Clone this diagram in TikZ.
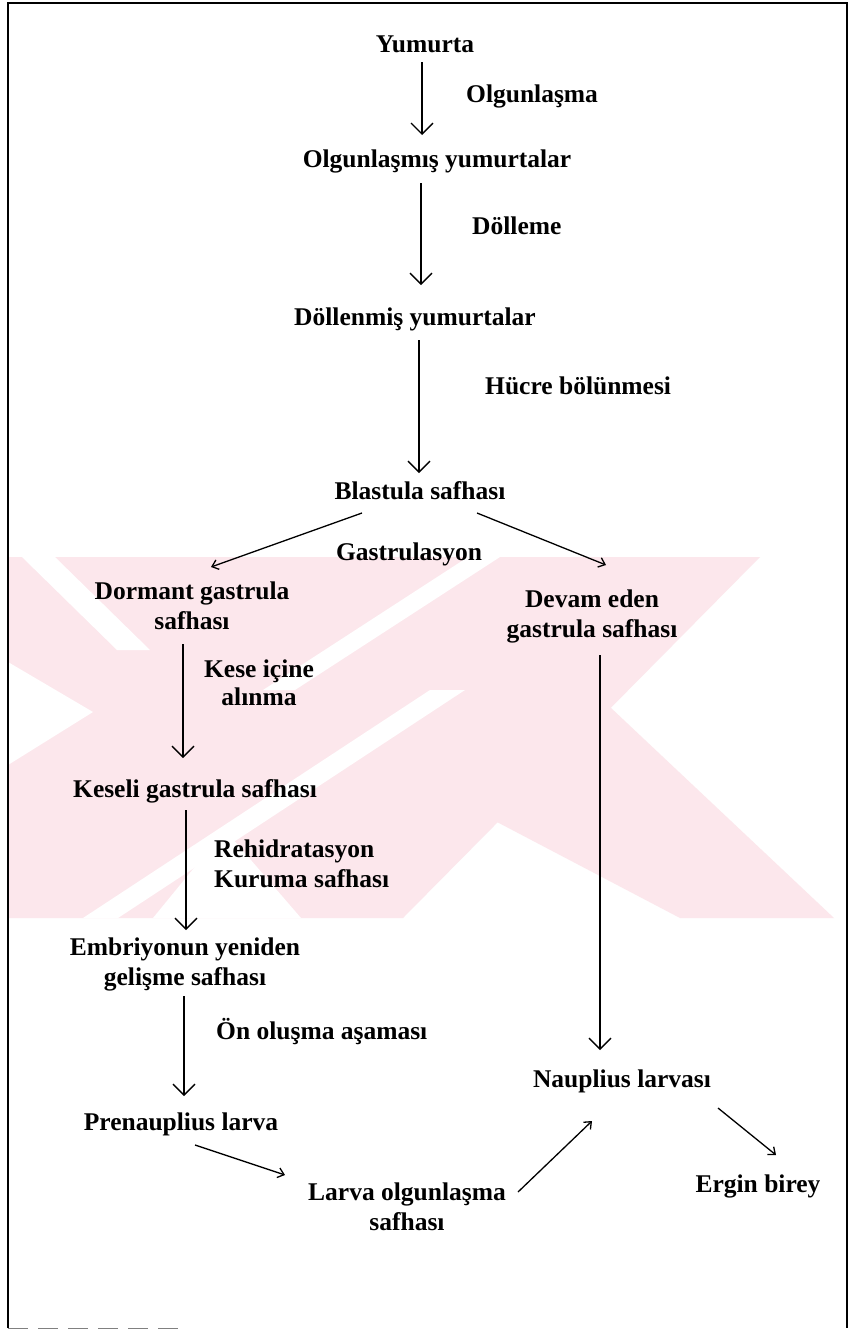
\documentclass[tikz,border=0pt]{standalone}
\usepackage{fontspec}
\setmainfont{Liberation Serif}
\usetikzlibrary{arrows.meta}
\definecolor{wm}{RGB}{252,231,236}
\begin{document}
\begin{tikzpicture}[x=1pt,y=-1pt,
  lbl/.style={font=\fontsize{25.5}{30}\selectfont\bfseries, inner sep=0pt, anchor=base},
  lbll/.style={lbl, anchor=base west, align=left},
  arr/.style={line width=1.3pt, -{Straight Barb[length=11pt,width=22pt,line width=1.3pt]}},
  darr/.style={line width=1.3pt, -{Straight Barb[length=6pt,width=10pt,line width=1.3pt]}},
  frame/.style={line width=1.5pt}
]
\useasboundingbox (0,0) rectangle (855,1331);
\fill[white] (0,0) rectangle (855,1331);

% watermark
\begin{scope}
\clip (8,557) rectangle (836,918);
\fill[wm] (8,557) -- (760,557) -- (403,918) -- (8,918) -- cycle;
\fill[wm] (610,707) -- (834,918) -- (680,918) -- (497,822) -- cycle;
\fill[white] (22,557) -- (55,557) -- (150,650) -- (117,650) -- cycle;
\fill[white] (8,662) -- (93,712) -- (8,765) -- cycle;
\fill[white] (468,557) -- (500,557) -- (295,690) -- (263,690) -- cycle;
\fill[white] (430,690) -- (465,690) -- (118,918) -- (83,918) -- cycle;
\fill[white] (225,830) -- (301,918) -- (153,918) -- cycle;
\end{scope}

% frame
\draw[frame] (8,1328) -- (8,3) -- (847,3) -- (847,1328);
\draw[gray, line width=1pt, dash pattern=on 20pt off 10pt] (8,1328) -- (180,1328);

% nodes
\node[lbl] (yum) at (425,52) {Yumurta};
\node[lbll] (l1) at (466,102) {Olgunlaşma};
\node[lbl] (olg) at (437,167) {Olgunlaşmış yumurtalar};
\node[lbll] (l2) at (472,234) {Dölleme};
\node[lbl] (dyum) at (415,325) {Döllenmiş yumurtalar};
\node[lbll] (l3) at (485,394) {Hücre bölünmesi};
\node[lbl] (blas) at (420,499) {Blastula safhası};
\node[lbl] (l4) at (409,560) {Gastrulasyon};
\node[lbl, align=center] (dorm) at (192,629) {Dormant gastrula\\safhası};
\node[lbl, align=center] (devam) at (592,637) {Devam eden\\gastrula safhası};
\node[lbl, align=center, font=\fontsize{25.5}{28}\selectfont\bfseries] (l5) at (259,705) {Kese içine\\alınma};
\node[lbl] (kes) at (195,797) {Keseli gastrula safhası};
\node[lbll] (l6) at (214,887) {Rehidratasyon\\Kuruma safhası};
\node[lbl, align=center] (embr) at (185,985) {Embriyonun yeniden\\gelişme safhası};
\node[lbll] (l7) at (216,1039) {Ön oluşma aşaması};
\node[lbl] (naup) at (622,1087) {Nauplius larvası};
\node[lbl] (pren) at (181,1130) {Prenauplius larva};
\node[lbl, align=center] (larva) at (407,1230) {Larva olgunlaşma\\safhası};
\node[lbl] (ergin) at (758,1192) {Ergin birey};

% connectors
\draw[arr] ([shift={(-3,10)}]yum.base) -- ([shift={(-15,-32)}]olg.base);
\draw[arr] ([shift={(-16,16)}]olg.base) -- ([shift={(6,-40)}]dyum.base);
\draw[arr] ([shift={(4,15)}]dyum.base) -- ([shift={(-1,-26)}]blas.base);
\draw[darr] ([shift={(-58,14)}]blas.base) -- ([shift={(19,-62)}]dorm.base);
\draw[darr] ([shift={(57,14)}]blas.base) -- ([shift={(14,-72)}]devam.base);
\draw[arr] ([shift={(-9,15)}]dorm.base) -- ([shift={(-12,-39)}]kes.base);
\draw[arr] ([shift={(-9,13)}]kes.base) -- ([shift={(1,-55)}]embr.base);
\draw[arr] ([shift={(-1,11)}]embr.base) -- ([shift={(3,-34)}]pren.base);
\draw[arr] ([shift={(8,18)}]devam.base) -- ([shift={(-22,-37)}]naup.base);
\draw[darr] ([shift={(14,15)}]pren.base) -- ([shift={(-122,-55)}]larva.base);
\draw[darr] ([shift={(111,-38)}]larva.base) -- ([shift={(-30,34)}]naup.base);
\draw[darr] ([shift={(96,21)}]naup.base) -- ([shift={(18,-37)}]ergin.base);
\end{tikzpicture}
\end{document}
